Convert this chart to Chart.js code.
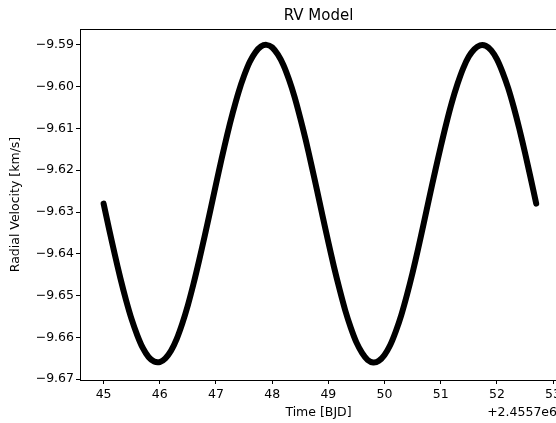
<!DOCTYPE html>
<html>
<head>
<meta charset="utf-8">
<script src="https://cdn.jsdelivr.net/npm/chart.js@4.4.1/dist/chart.umd.min.js"></script>
<style>
  html, body { margin: 0; padding: 0; background: #fff; overflow: hidden; }
  #rvChart { display: block; }
</style>
</head>
<body>
<canvas id="rvChart" width="560" height="423"></canvas>
<script>
// Time offsets (days, + 2.4557e6)
const times = [
  45.0, 45.1, 45.2, 45.3, 45.4, 45.5, 45.6, 45.7, 45.8, 45.9,
  46.0, 46.1, 46.2, 46.3, 46.4, 46.5, 46.6, 46.7, 46.8, 46.9,
  47.0, 47.1, 47.2, 47.3, 47.4, 47.5, 47.6, 47.7, 47.8, 47.9,
  48.0, 48.1, 48.2, 48.3, 48.4, 48.5, 48.6, 48.7, 48.8, 48.9,
  49.0, 49.1, 49.2, 49.3, 49.4, 49.5, 49.6, 49.7, 49.8, 49.9,
  50.0, 50.1, 50.2, 50.3, 50.4, 50.5, 50.6, 50.7, 50.8, 50.9,
  51.0, 51.1, 51.2, 51.3, 51.4, 51.5, 51.6, 51.7, 51.8, 51.9,
  52.0, 52.1, 52.2, 52.3, 52.4, 52.5, 52.6, 52.7
];

// Radial velocity (km/s)
const velocities = [
  -9.6280, -9.6342, -9.6402, -9.6459, -9.6511, -9.6557, -9.6595, -9.6626, -9.6647, -9.6658,
  -9.6659, -9.6650, -9.6632, -9.6604, -9.6567, -9.6523, -9.6472, -9.6416, -9.6357, -9.6296,
  -9.6234, -9.6173, -9.6115, -9.6062, -9.6014, -9.5974, -9.5941, -9.5918, -9.5904, -9.5900,
  -9.5906, -9.5923, -9.5948, -9.5983, -9.6025, -9.6075, -9.6129, -9.6188, -9.6249, -9.6311,
  -9.6372, -9.6431, -9.6485, -9.6535, -9.6577, -9.6612, -9.6637, -9.6654, -9.6660, -9.6656,
  -9.6642, -9.6619, -9.6586, -9.6546, -9.6498, -9.6445, -9.6387, -9.6326, -9.6264, -9.6203,
  -9.6144, -9.6088, -9.6037, -9.5993, -9.5956, -9.5928, -9.5910, -9.5901, -9.5902, -9.5913,
  -9.5934, -9.5965, -9.6003, -9.6049, -9.6101, -9.6158, -9.6218, -9.6280
];

const xTicks = [45, 46, 47, 48, 49, 50, 51, 52, 53];
const yTicks = [-9.67, -9.66, -9.65, -9.64, -9.63, -9.62, -9.61, -9.60, -9.59];

const FONT = '"DejaVu Sans", sans-serif';

// Title, axis labels, offset text and top spine
const decorPlugin = {
  id: 'decor',
  afterDraw(chart) {
    const { ctx, chartArea } = chart;
    const midX = (chartArea.left + chartArea.right) / 2;
    const midY = (chartArea.top + chartArea.bottom) / 2;
    ctx.save();
    ctx.strokeStyle = '#000';
    ctx.lineWidth = 1;
    ctx.beginPath();
    ctx.moveTo(chartArea.left, chartArea.top + 0.5);
    ctx.lineTo(chartArea.right, chartArea.top + 0.5);
    ctx.stroke();

    ctx.fillStyle = '#000';
    ctx.textBaseline = 'middle';
    ctx.textAlign = 'center';
    ctx.font = '15px ' + FONT;
    ctx.fillText('RV Model', midX, 16);

    ctx.font = '12.5px ' + FONT;
    ctx.fillText('Time [BJD]', midX, 413);
    ctx.textAlign = 'right';
    ctx.fillText('+2.4557e6', chartArea.right, 413);

    ctx.translate(16, midY);
    ctx.rotate(-Math.PI / 2);
    ctx.textAlign = 'center';
    ctx.fillText('Radial Velocity [km/s]', 0, 0);
    ctx.restore();
  }
};

new Chart(document.getElementById('rvChart').getContext('2d'), {
  type: 'line',
  data: {
    datasets: [{
      data: times.map((t, i) => ({ x: t, y: velocities[i] })),
      borderColor: '#000',
      borderWidth: 6,
      borderCapStyle: 'round',
      borderJoinStyle: 'round',
      pointRadius: 0,
      tension: 0.3,
      fill: false
    }]
  },
  options: {
    responsive: false,
    animation: false,
    layout: { padding: { top: 29, right: 3, left: 0, bottom: 0 } },
    plugins: {
      legend: { display: false },
      title: { display: false },
      tooltip: { enabled: false }
    },
    scales: {
      x: {
        type: 'linear',
        min: 44.58,
        max: 53.07,
        afterFit: s => { s.height = 43; s.paddingLeft = 0; s.paddingRight = 0; },
        afterBuildTicks: s => { s.ticks = xTicks.map(v => ({ value: v })); },
        grid: { drawOnChartArea: false, drawTicks: true, tickLength: 4, color: '#000' },
        border: { display: true, color: '#000', width: 1 },
        ticks: {
          color: '#000',
          padding: 3,
          maxRotation: 0,
          autoSkip: false,
          font: { family: FONT, size: 12.5 },
          callback: v => String(v)
        }
      },
      y: {
        min: -9.6702,
        max: -9.5862,
        afterFit: s => { s.width = 80; s.paddingTop = 0; s.paddingBottom = 0; },
        afterBuildTicks: s => { s.ticks = yTicks.map(v => ({ value: v })); },
        grid: { drawOnChartArea: false, drawTicks: true, tickLength: 4, color: '#000' },
        border: { display: true, color: '#000', width: 1 },
        ticks: {
          color: '#000',
          padding: 2,
          autoSkip: false,
          font: { family: FONT, size: 12.5 },
          callback: v => '\u2212' + Math.abs(v).toFixed(2)
        }
      }
    }
  },
  plugins: [decorPlugin]
});
</script>
</body>
</html>
